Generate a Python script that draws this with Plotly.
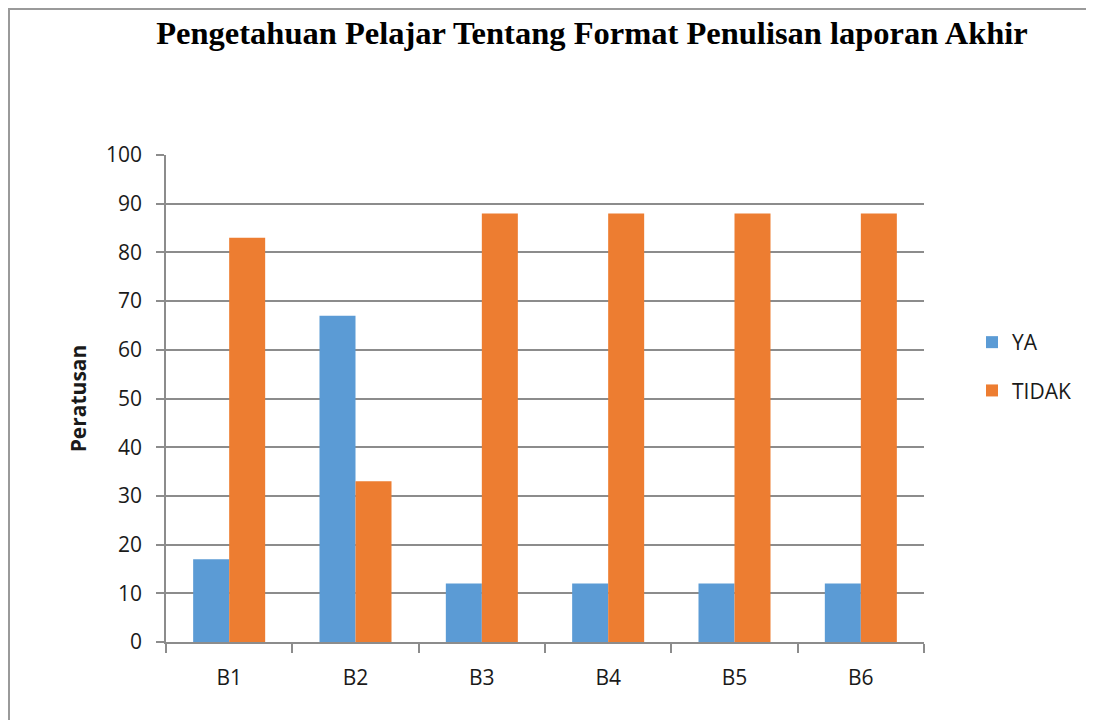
import plotly.graph_objects as go

categories = ["B1", "B2", "B3", "B4", "B5", "B6"]
ya_values = [17, 67, 12, 12, 12, 12]
tidak_values = [83, 33, 88, 88, 88, 88]

# page has 8px body margin; figure coordinates = page coordinates - 8
OFF = 8
W, H = 1094 - OFF, 720 - OFF
L = 166 - OFF
T = 155 - OFF
R = W - (924 - OFF)
B = H - (642 - OFF)
pw, ph = W - L - R, H - T - B

font_main = "Open Sans, Lato, Liberation Sans, sans-serif"
txt = "#1a1a1a"


def px_x(x):
    return (x - OFF - L) / pw


def px_y(y):
    return (H - B - (y - OFF)) / ph


fig = go.Figure()
fig.add_trace(go.Bar(x=categories, y=ya_values, name="YA", legendgroup="a",
                     marker=dict(color="#5B9BD5", line=dict(width=0))))
fig.add_trace(go.Bar(x=categories, y=tidak_values, name="TIDAK", legendgroup="b",
                     marker=dict(color="#ED7D31", line=dict(width=0))))

fig.update_layout(
    width=W, height=H,
    margin=dict(l=L, r=R, t=T, b=B, autoexpand=False),
    paper_bgcolor="white", plot_bgcolor="white",
    barmode="group", bargap=0.43, bargroupgap=0,
    title=dict(text="<b>Pengetahuan Pelajar Tentang Format Penulisan laporan Akhir</b>",
               font=dict(family="Liberation Serif, Times New Roman, serif", size=32.5, color="black"),
               x=px_x(592), xref="paper", xanchor="center",
               y=1 - (33 - OFF) / H, yanchor="middle"),
    font=dict(family=font_main, color=txt),
    legend=dict(x=px_x(972), y=px_y(322), xanchor="left", yanchor="top",
                font=dict(size=21, family=font_main, color=txt), itemwidth=30,
                traceorder="grouped", tracegroupgap=18,
                bgcolor="rgba(0,0,0,0)"),
    showlegend=True,
)
fig.update_xaxes(
    type="category", tickson="boundaries", ticks="outside", ticklen=9, tickcolor="#8c8c8c", tickwidth=1.5,
    showline=True, linecolor="#8c8c8c", linewidth=1.5, showgrid=False,
    tickfont=dict(size=21, family=font_main, color=txt), ticklabelstandoff=16,
)
fig.update_yaxes(
    range=[0, 100], dtick=10, ticks="outside", ticklen=8, tickcolor="#8c8c8c", tickwidth=1.5,
    showline=True, linecolor="#8c8c8c", linewidth=1.5, showgrid=True, gridcolor="#8c8c8c", gridwidth=1.5,
    zeroline=False,
    tickfont=dict(size=21, family=font_main, color=txt), ticklabelstandoff=10,
    title=dict(text="<b>Peratusan</b>", font=dict(size=21, family=font_main, color=txt), standoff=14),
)
# chart border (top and left visible)
fig.add_shape(type="line", xref="paper", yref="paper", x0=px_x(8), x1=px_x(1100), y0=px_y(9), y1=px_y(9),
              line=dict(color="#9a9a9a", width=2))
fig.add_shape(type="line", xref="paper", yref="paper", x0=px_x(9), x1=px_x(9), y0=px_y(8), y1=px_y(730),
              line=dict(color="#9a9a9a", width=2))

fig.write_html("out.html")
